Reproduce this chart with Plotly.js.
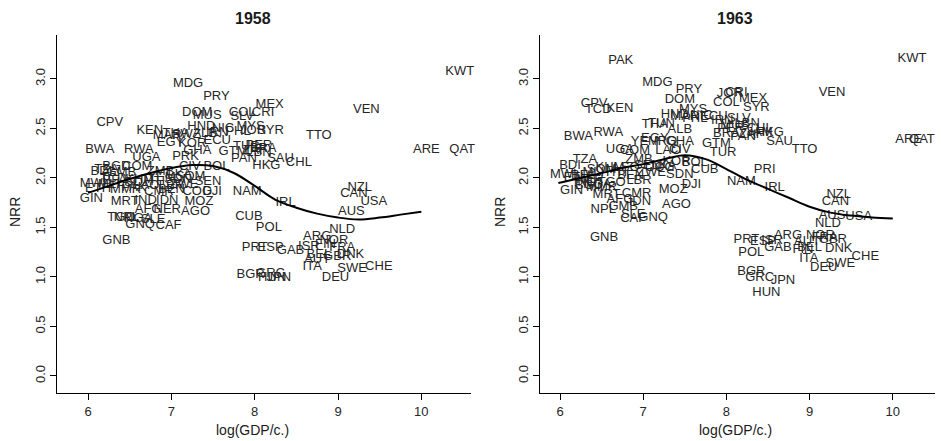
<!DOCTYPE html>
<html><head><meta charset="utf-8">
<script src="https://cdn.plot.ly/plotly-3.0.1.min.js"></script>
<style>html,body{margin:0;padding:0;background:#fff}</style>
</head><body><div id="chart" style="width:941px;height:441px"></div>
<script>
// ---- 1958 ----
const codes58 = ["MDG","PRY","CPV","DOM","MUS","COL","SLV","CRI","MEX","KEN","HND","NIC","MYS","JOR","SYR","PHL","BWA","RWA","UGA","PRK","MAR","THA","ALB","IRN","SWZ","EGY","KOR","GHA","ECU","TUR","PER","BRA","GTM","ZAF","PAN","LBN","SAU","HKG","CHL","CIV","BOL","TTO","VEN","KWT","ARE","QAT","NAM","COG","DJI","GIN","GNB","MRT","IND","IDN","MOZ","AFG","NER","AGO","CUB","TGO","NPL","NGA","SLE","GNQ","CAF","TZA","BDI","BGD","COM","ZMB","SOM","SEN","BEN","MWI","ETH","MLI","BFA","LSO","KHM","LAO","HTI","YEM","SDN","LBR","ZWE","CMR","PAK","MMR","LKA","GMB","TCD","IRL","POL","PRT","ESP","GAB","ARG","NOR","ISR","FRA","FIN","BEL","AUT","GBR","DNK","ITA","SWE","CHE","DEU","BGR","GRC","HUN","JPN","NZL","CAN","USA","AUS","NLD"];
const gdp58 = [7.20,7.54,6.26,7.31,7.43,7.85,7.85,8.10,8.18,6.74,7.36,7.62,7.95,7.98,8.19,7.80,6.14,6.61,6.70,7.17,6.95,7.05,7.40,7.55,7.18,6.99,7.25,7.31,7.55,7.90,8.05,8.10,7.74,8.00,7.87,8.05,8.31,8.14,8.53,7.22,7.54,8.77,9.34,10.46,10.06,10.49,7.91,7.31,7.49,6.04,6.34,6.44,6.69,6.95,7.33,6.72,6.95,7.29,7.93,6.40,6.46,6.60,6.78,6.625,6.965,6.22,6.16,6.34,6.59,6.87,7.23,7.44,7.00,6.06,6.12,6.25,6.32,6.50,6.62,6.70,6.80,6.88,7.08,7.00,7.15,6.85,6.55,6.45,7.10,6.40,6.30,8.37,8.17,8.00,8.19,8.43,8.75,8.95,8.65,9.05,8.85,8.77,8.75,8.99,9.15,8.69,9.17,9.49,8.97,7.95,8.19,8.21,8.29,9.26,9.19,9.43,9.16,9.05];
const nrr58 = [2.95,2.82,2.56,2.66,2.63,2.66,2.62,2.66,2.74,2.48,2.52,2.50,2.52,2.48,2.48,2.47,2.28,2.28,2.205,2.21,2.43,2.45,2.45,2.46,2.44,2.36,2.35,2.27,2.38,2.32,2.33,2.30,2.26,2.27,2.19,2.25,2.19,2.12,2.15,2.11,2.11,2.43,2.69,3.07,2.28,2.28,1.86,1.86,1.86,1.79,1.37,1.76,1.77,1.77,1.76,1.68,1.68,1.66,1.61,1.60,1.60,1.59,1.58,1.525,1.52,2.08,2.06,2.11,2.11,2.06,2.01,1.96,1.88,1.94,1.89,1.93,1.97,1.95,1.98,1.92,1.96,2.00,1.98,1.92,1.93,1.86,1.90,1.88,2.03,2.05,1.99,1.745,1.50,1.30,1.30,1.265,1.41,1.37,1.31,1.30,1.33,1.22,1.17,1.20,1.22,1.10,1.08,1.10,0.99,1.02,1.03,0.99,0.99,1.90,1.84,1.76,1.66,1.48];
const smoothX58 = [6.0,6.25,6.5,6.75,7.0,7.25,7.5,7.75,8.0,8.25,8.5,8.75,9.0,9.25,9.5,9.75,10.0];
const smoothY58 = [1.85,1.92,1.99,2.05,2.10,2.13,2.12,2.05,1.92,1.78,1.70,1.64,1.60,1.58,1.60,1.63,1.66];

// ---- 1963 ----
const codes63 = ["PAK","MDG","PRY","DOM","CPV","TCD","KEN","BWA","RWA","MYS","HND","MAR","NIC","ECU","PHL","THA","TUN","ALB","EGY","YEM","IRQ","GHA","UGA","COM","CIV","LAO","TZA","BDI","MWI","GIN","BOL","KOR","CUB","SDN","DJI","MOZ","AGO","IDN","GNQ","CAF","SLE","MRT","CMR","NPL","GMB","AFG","GNB","COL","MEX","CRI","JOR","SYR","VEN","KWT","ARE","QAT","TTO","TUR","GTM","SAU","HKG","PER","BRA","LBN","SLV","PAN","ZAF","JAM","IRN","CHL","MUS","PRI","NAM","IRL","NZL","CAN","AUS","USA","NLD","PRT","POL","ESP","ISR","ARG","GAB","NOR","AUT","GBR","FRA","FIN","BEL","DNK","ITA","SWE","DEU","CHE","BGR","GRC","JPN","HUN","ETH","BFA","MLI","NER","SOM","KHM","HTI","LSO","SEN","BEN","TGO","LBR","ZWE","NGA","IND","BGD","MMR","COG","LKA","ZMB"];
const gdp63 = [6.73,7.17,7.55,7.44,6.41,6.46,6.72,6.22,6.58,7.60,7.38,7.50,7.70,7.85,7.62,7.14,7.22,7.44,7.14,7.02,7.27,7.44,6.72,6.90,7.44,7.30,6.30,6.12,6.04,6.14,7.62,7.40,7.74,7.44,7.58,7.36,7.40,6.96,7.12,6.88,6.88,6.56,6.92,6.52,6.76,6.72,6.53,8.00,8.32,8.12,8.04,8.36,9.27,10.23,10.19,10.35,8.94,7.96,7.88,8.64,8.52,8.05,8.00,8.25,8.15,8.20,8.30,8.40,7.95,8.40,8.10,8.46,8.18,8.58,9.35,9.31,9.27,9.59,9.22,8.24,8.30,8.44,8.55,8.74,8.62,9.13,8.97,9.28,9.18,8.92,9.00,9.35,8.99,9.37,9.17,9.67,8.30,8.40,8.68,8.48,6.20,6.28,6.40,6.36,6.50,6.60,6.68,6.80,7.05,6.85,6.62,6.95,7.10,6.45,6.30,6.35,6.50,7.20,7.25,6.95];
const nrr63 = [3.185,2.96,2.89,2.795,2.75,2.69,2.70,2.42,2.46,2.69,2.64,2.62,2.63,2.62,2.60,2.54,2.55,2.485,2.40,2.37,2.37,2.37,2.29,2.27,2.28,2.27,2.18,2.12,2.03,1.87,2.15,2.16,2.08,2.03,1.93,1.885,1.73,1.76,1.60,1.59,1.63,1.83,1.845,1.68,1.71,1.78,1.40,2.76,2.805,2.86,2.855,2.71,2.86,3.20,2.39,2.39,2.28,2.255,2.35,2.37,2.46,2.50,2.45,2.55,2.60,2.42,2.44,2.46,2.58,2.50,2.53,2.08,1.96,1.90,1.83,1.76,1.62,1.61,1.535,1.38,1.24,1.36,1.37,1.42,1.30,1.42,1.36,1.38,1.40,1.28,1.30,1.29,1.18,1.13,1.09,1.205,1.05,0.99,0.96,0.84,2.00,2.02,2.05,1.98,2.08,2.10,2.05,2.10,2.12,2.02,1.95,1.97,2.05,1.93,1.95,1.92,1.90,2.10,2.12,2.18];
const smoothX63 = [5.98,6.25,6.5,6.75,7.0,7.25,7.5,7.75,8.0,8.25,8.5,8.75,9.0,9.25,9.5,9.75,10.0];
const smoothY63 = [1.95,2.00,2.05,2.10,2.14,2.19,2.23,2.19,2.09,1.98,1.89,1.80,1.71,1.65,1.62,1.60,1.59];

const xTicks = [6,7,8,9,10];
const yTicks = [0,0.5,1,1.5,2,2.5,3];
const yTickText = ["0.0","0.5","1.0","1.5","2.0","2.5","3.0"];
const panelTitles = ["1958","1963"];

const FONT = "Liberation Sans, Arial, sans-serif";
const textStyle = {family: FONT, size: 13, color: "#262626"};

function txt(codes, x, y, xa, ya){
  return {type:"scatter", mode:"text", x:x, y:y, text:codes, textposition:"middle center",
    textfont:textStyle, xaxis:xa, yaxis:ya, cliponaxis:false, hoverinfo:"skip", showlegend:false};
}
function line(x, y, xa, ya){
  return {type:"scatter", mode:"lines", x:x, y:y, line:{color:"#000", width:2, shape:"spline"},
    xaxis:xa, yaxis:ya, hoverinfo:"skip", showlegend:false};
}

const data = [
  txt(codes58, gdp58, nrr58, "x", "y"),
  line(smoothX58, smoothY58, "x", "y"),
  txt(codes63, gdp63, nrr63, "x2", "y2"),
  line(smoothX63, smoothY63, "x2", "y2")
];

function xax(dom, rng, anchor){
  return {domain:dom, range:rng, anchor:anchor, tickvals:xTicks, ticktext:xTicks.map(String),
    ticks:"outside", ticklen:6, tickcolor:"#000", showline:true, linecolor:"#000", linewidth:1,
    showgrid:false, zeroline:false, tickfont:{family:FONT, size:13, color:"#262626"}};
}
function yax(rng, anchor){
  return {domain:[0.1088,0.9206], range:rng, anchor:anchor, tickvals:yTicks, ticktext:yTickText,
    ticks:"outside", ticklen:6, tickcolor:"#000", showline:true, linecolor:"#000", linewidth:1,
    showgrid:false, zeroline:false, tickangle:-90, tickfont:{family:FONT, size:13, color:"#262626"}};
}

function ann(text, px, py, size, angle){
  return {text:text, xref:"paper", yref:"paper", x:px/941, y:1-py/441, xanchor:"center", yanchor:"middle",
    showarrow:false, textangle:angle||0, font:{family:FONT, size:size, color:"#1a1a1a"}};
}

const layout = {
  width:941, height:441, margin:{l:0,r:0,t:0,b:0},
  paper_bgcolor:"#fff", plot_bgcolor:"#fff", showlegend:false,
  xaxis: xax([0.0606,0.5],[5.627,10.59],"y"),
  yaxis: yax([-0.172,3.444],"x"),
  xaxis2: xax([0.5739,0.9936],[5.76,10.507],"y2"),
  yaxis2: yax([-0.172,3.444],"x2"),
  annotations:[
    ann("<b>"+panelTitles[0]+"</b>", 253, 18, 16),
    ann("<b>"+panelTitles[1]+"</b>", 735, 18, 16),
    ann("log(GDP/c.)", 253, 430, 14),
    ann("log(GDP/c.)", 735, 430, 14),
    ann("NRR", 15, 212, 14, -90),
    ann("NRR", 500, 212, 14, -90)
  ]
};

Plotly.newPlot("chart", data, layout, {displayModeBar:false, staticPlot:true});
</script></body></html>
